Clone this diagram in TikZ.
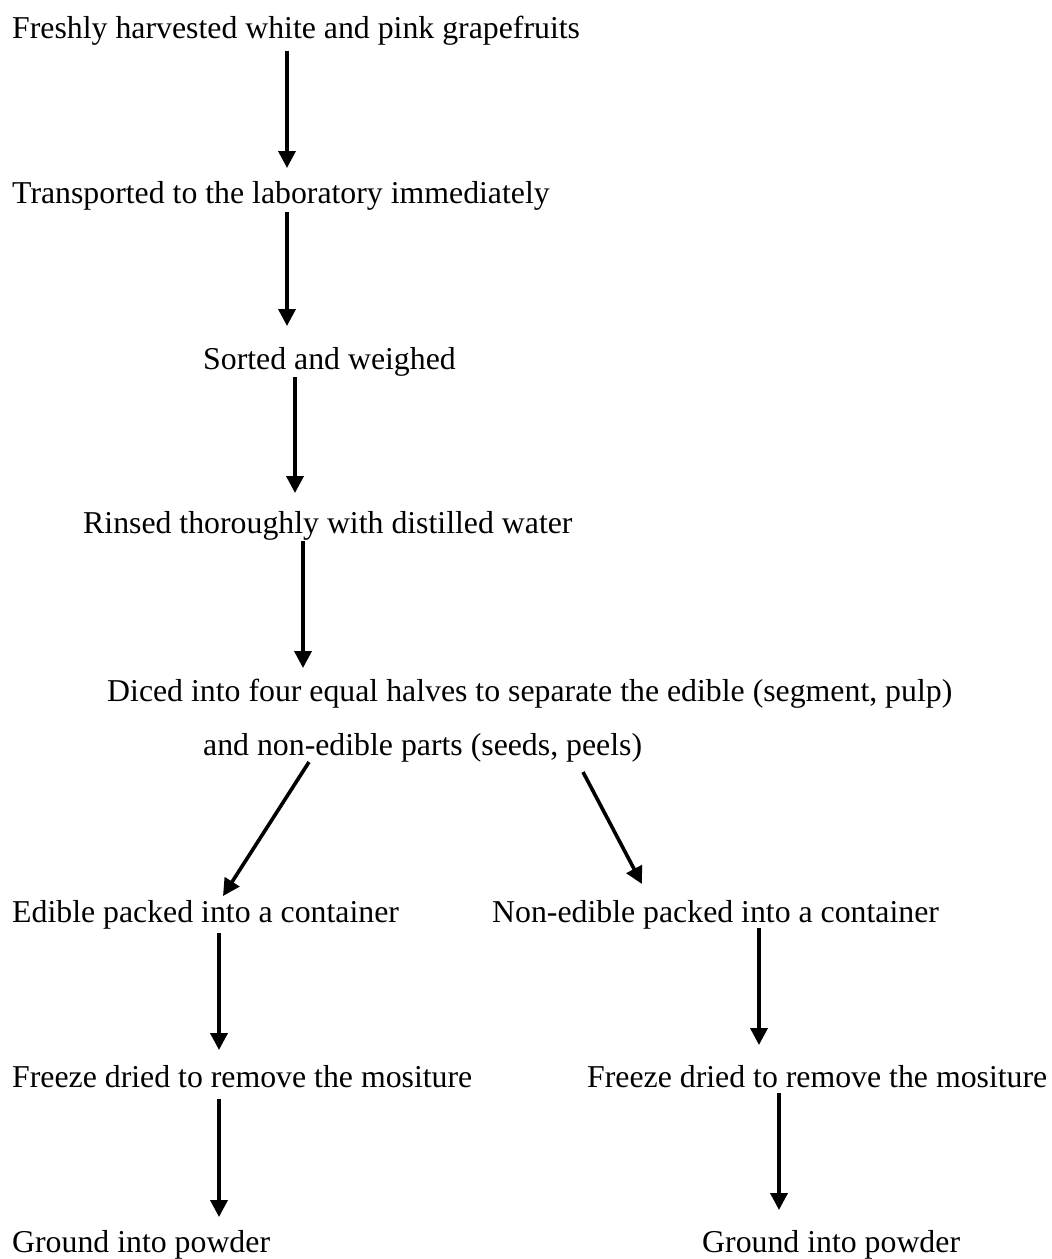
\documentclass[tikz,border=0pt]{standalone}
\usepackage{fontspec}
\setmainfont{Liberation Serif}
\usepackage{tikz}
\usetikzlibrary{arrows.meta}
\tikzset{
  stepline/.style = {font=\fontsize{31.8}{38}\selectfont, anchor=base west, inner sep=0pt},
  flow/.style     = {-{Triangle[length=17pt,width=17pt]}, draw=black, line width=3.6pt},
}

\begin{document}
\begin{tikzpicture}[x=1pt,y=-1pt]
  \useasboundingbox (0,0) rectangle (1052,1259);

  \node[stepline] (fresh)  at (12,38)  {Freshly harvested white and pink grapefruits};
  \node[stepline] (transp) at (12,203) {Transported to the laboratory immediately};
  \node[stepline] (sorted) at (203,369) {Sorted and weighed};
  \node[stepline] (rinsed) at (83,533) {Rinsed thoroughly with distilled water};
  \node[stepline] (diced)  at (107,701) {Diced into four equal halves to separate the edible (segment, pulp)};
  \node[stepline] (dicedb) at (203,755) {and non-edible parts (seeds, peels)};

  \node[stepline] (edpack)  at (12,922)  {Edible packed into a container};
  \node[stepline] (nonpack) at (492,922) {Non-edible packed into a container};
  \node[stepline] (edfrz)   at (12,1087) {Freeze dried to remove the mositure};
  \node[stepline] (nonfrz)  at (587,1087) {Freeze dried to remove the mositure};
  \node[stepline] (edgrd)   at (12,1252) {Ground into powder};
  \node[stepline] (nongrd)  at (702,1252) {Ground into powder};

  \draw[flow] ([shift={(275,13)}]fresh.base west) -- ([shift={(275,-35)}]transp.base west);
  \draw[flow] ([shift={(275,9)}]transp.base west) -- ([shift={(84,-43)}]sorted.base west);
  \draw[flow] ([shift={(92,8)}]sorted.base west) -- ([shift={(212,-40)}]rinsed.base west);
  \draw[flow] ([shift={(220,8)}]rinsed.base west) -- ([shift={(196,-33)}]diced.base west);

  \draw[flow] ([shift={(106,7)}]dicedb.base west) -- ([shift={(211,-26)}]edpack.base west);
  \draw[flow] ([shift={(380,17)}]dicedb.base west) -- ([shift={(150,-38)}]nonpack.base west);

  \draw[flow] ([shift={(207,11)}]edpack.base west) -- ([shift={(207,-37)}]edfrz.base west);
  \draw[flow] ([shift={(267,6)}]nonpack.base west) -- ([shift={(172,-42)}]nonfrz.base west);
  \draw[flow] ([shift={(207,12)}]edfrz.base west) -- ([shift={(207,-35)}]edgrd.base west);
  \draw[flow] ([shift={(192,6)}]nonfrz.base west) -- ([shift={(77,-42)}]nongrd.base west);
\end{tikzpicture}
\end{document}
